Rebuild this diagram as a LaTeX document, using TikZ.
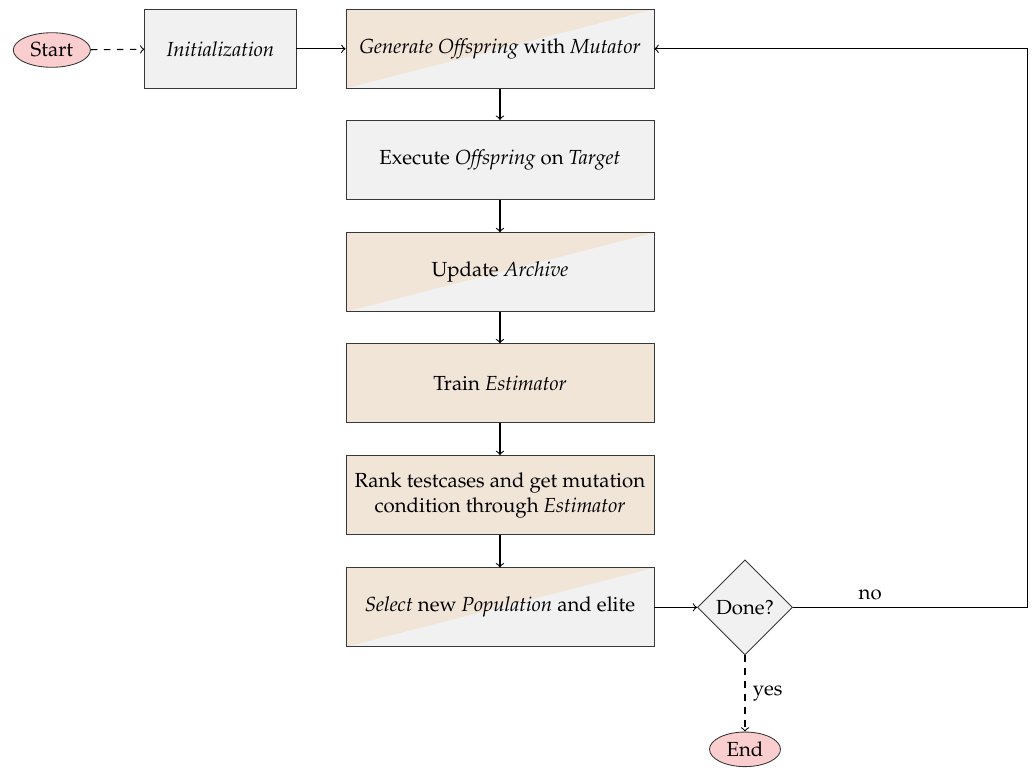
\documentclass[tikz,border=0pt]{standalone}
\usepackage[T1]{fontenc}
\usepackage{mathpazo}
\usepackage{tikz}
\usetikzlibrary{positioning,shapes,shapes.geometric}

\definecolor{boxgray}{RGB}{241,241,241}
\definecolor{boxbeige}{RGB}{241,229,216}
\definecolor{termpink}{RGB}{250,206,206}
\definecolor{boxline}{RGB}{55,55,55}

\tikzset{
  every node/.style={font=\fontsize{9.4}{11.5}\selectfont},
  stepgray/.style={draw=boxline, thin, fill=boxgray, minimum width=4.99cm, minimum height=1.28cm, align=center},
  stepbeige/.style={stepgray, fill=boxbeige},
  stepsplit/.style={stepgray, path picture={
      \fill[boxbeige] (path picture bounding box.south west) -- (path picture bounding box.north west)
        -- (path picture bounding box.north east) -- cycle;}},
  terminal/.style={ellipse, draw=boxline, thin, fill=termpink, minimum width=1.2cm, minimum height=0.56cm, inner sep=1pt},
  decision/.style={diamond, draw=boxline, thin, fill=boxgray, minimum width=1.54cm, minimum height=1.54cm, inner sep=0pt}
}

\begin{document}
\begin{tikzpicture}[line width=0.5pt]
\useasboundingbox (0,0) rectangle (16.72,-12.43);

\node[terminal, minimum width=1.25cm] (start) at (0.84, -0.81) {Start};
\node[stepgray, minimum width=2.45cm] (init) at (3.57, -0.79) {\textit{Initialization}};

\node[stepsplit] (gen) at (8.10, -0.79) {\textit{Generate Offspring} with \textit{Mutator}};
\node[stepgray] (exec) at (8.10, -2.59) {Execute \textit{Offspring} on \textit{Target}};
\node[stepsplit] (upd) at (8.10, -4.41) {Update \textit{Archive}};
\node[stepbeige] (train) at (8.10, -6.21) {Train \textit{Estimator}};
\node[stepbeige] (rank) at (8.10, -8.02) {Rank testcases and get mutation\\condition through \textit{Estimator}};
\node[stepsplit] (sel) at (8.10, -9.84) {\textit{Select} new \textit{Population} and elite};

\node[decision] (done) at (12.07, -9.84) {Done?};
\node[terminal, minimum width=1.15cm] (end) at (12.07, -12.14) {End};

\coordinate (back) at (16.64, -9.84);

% Draw connectors
\draw[->, dashed] (start) -- (init);
\draw[->] (init) -- (gen);
\draw[->] (gen) -- (exec);
\draw[->] (exec) -- (upd);
\draw[->] (upd) -- (train);
\draw[->] (train) -- (rank);
\draw[->] (rank) -- (sel);
\draw[->] (sel) -- (done);
\draw[->] (done) -- node[above, pos=0.33] {no} (back) |- (gen);
\draw[->, dashed] (done) -- node[right] {yes} (end);

\end{tikzpicture}
\end{document}
